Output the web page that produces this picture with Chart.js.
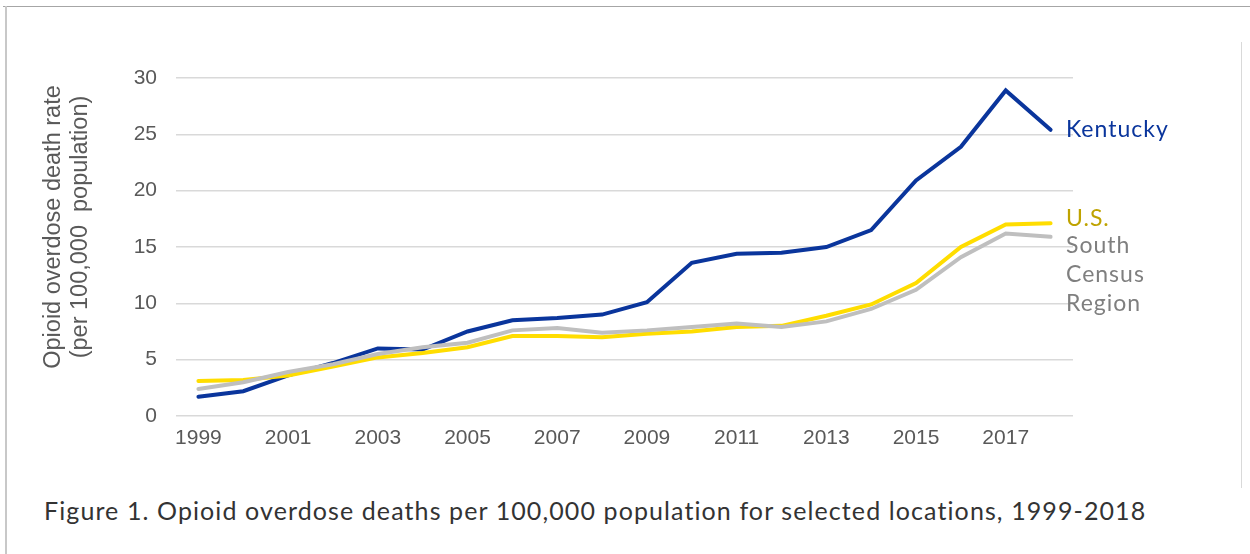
<!DOCTYPE html>
<html>
<head>
<meta charset="utf-8">
<script src="https://cdn.jsdelivr.net/npm/chart.js@4"></script>
<style>
  html, body { margin: 0; padding: 0; background: #fff; }
  body { width: 1250px; height: 554px; position: relative; overflow: hidden; }
  .frame-top { position: absolute; left: 3px; top: 6px; width: 1247px; height: 0; border-top: 1.5px solid #a6a6a6; }
  .frame-left { position: absolute; left: 5px; top: 6px; width: 0; height: 548px; border-left: 2px solid #c8c8c8; }
  .frame-right { position: absolute; left: 1241px; top: 42px; width: 0; height: 446px; border-left: 1px solid #d9d9d9; }
  .chart-box { position: absolute; left: 0; top: 0; width: 1250px; height: 460px; }
  .y-title { position: absolute; left: 66px; top: 227px; width: 400px; transform: translate(-50%, -50%) rotate(-90deg);
             text-align: center; font-family: 'Liberation Sans', Arial, sans-serif; font-size: 23.5px; line-height: 27px; color: #595959; white-space: pre; }
  .caption { position: absolute; left: 44px; top: 495px; font-family: 'Lato', sans-serif; font-size: 25px; letter-spacing: 1.1px; color: #333; white-space: nowrap; }
</style>
</head>
<body>
<div class="frame-top"></div>
<div class="frame-left"></div>
<div class="frame-right"></div>
<div class="chart-box"><canvas id="chart"></canvas></div>
<div class="y-title" id="ytitle"></div>
<div class="caption">Figure 1. Opioid overdose deaths per 100,000 population for selected locations, 1999-2018</div>
<script>
  'use strict';

  const years = ['1999', '2000', '2001', '2002', '2003', '2004', '2005', '2006', '2007', '2008',
                 '2009', '2010', '2011', '2012', '2013', '2014', '2015', '2016', '2017', '2018'];
  const kentucky = [1.7, 2.2, 3.6, 4.7, 6.0, 5.9, 7.5, 8.5, 8.7, 9.0, 10.1, 13.6, 14.4, 14.5, 15.0, 16.5, 20.9, 23.9, 28.9, 25.4];
  const us       = [3.1, 3.2, 3.6, 4.4, 5.2, 5.6, 6.1, 7.1, 7.1, 7.0, 7.3, 7.5, 7.9, 8.0, 8.9, 9.9, 11.8, 15.0, 17.0, 17.1];
  const south    = [2.4, 3.0, 3.9, 4.6, 5.5, 6.1, 6.5, 7.6, 7.8, 7.4, 7.6, 7.9, 8.2, 7.9, 8.4, 9.5, 11.2, 14.1, 16.2, 15.9];
  const yTicks = [0, 5, 10, 15, 20, 25, 30];
  const yTitle = ['Opioid overdose death rate', '(per 100,000  population)'];
  const kentuckyLabel = ['Kentucky'];
  const usLabel = ['U.S.'];
  const southLabel = ['South', 'Census', 'Region'];

  const TICK_COLOR = '#595959';
  const GRID_COLOR = '#d9d9d9';
  const TICK_FONT = { family: "'Liberation Sans', Arial, sans-serif", size: 21 };

  document.getElementById('ytitle').textContent = yTitle.join('\n');

  // end-of-line labels, placed next to the last point of each series
  const endLabels = {
    id: 'endLabels',
    afterDatasetsDraw(chart) {
      const { ctx, chartArea } = chart;
      ctx.save();
      ctx.textBaseline = 'middle';
      ctx.textAlign = 'left';
      ctx.font = "23px 'Lato', sans-serif";
      ctx.letterSpacing = '1px';
      chart.data.datasets.forEach((ds) => {
        const y = chart.scales.y.getPixelForValue(ds.data[ds.data.length - 1]);
        ctx.fillStyle = ds.labelColor;
        ds.labelLines.forEach((line, i) => {
          ctx.fillText(line, chartArea.right - 7, y + ds.labelOffset + i * 29);
        });
      });
      ctx.restore();
    }
  };

  new Chart(document.getElementById('chart'), {
    type: 'line',
    data: {
      labels: years,
      datasets: [
        { label: 'South Census Region', data: south, borderColor: '#bfbfbf', labelColor: '#7f7f7f', labelLines: southLabel, labelOffset: 9 },
        { label: 'U.S.', data: us, borderColor: '#ffdd00', labelColor: '#bfa300', labelLines: usLabel, labelOffset: -5 },
        { label: 'Kentucky', data: kentucky, borderColor: '#0a359c', labelColor: '#0a359c', labelLines: kentuckyLabel, labelOffset: 0 }
      ].map(ds => ({ ...ds, borderWidth: 4, pointRadius: 0, tension: 0, fill: false, borderCapStyle: 'round', borderJoinStyle: 'miter' }))
    },
    options: {
      responsive: true,
      maintainAspectRatio: false,
      animation: false,
      events: [],
      layout: { padding: { left: 30, right: 177, top: 78, bottom: 4 } },
      plugins: { legend: { display: false }, tooltip: { enabled: false } },
      scales: {
        x: {
          offset: true,
          grid: { display: false, drawTicks: false },
          border: { display: false },
          ticks: {
            autoSkip: false, maxRotation: 0, padding: 10, color: TICK_COLOR, font: TICK_FONT,
            callback: (v, i) => (i % 2 === 0 ? years[i] : '')
          },
          afterFit: (s) => { s.height = 40; }
        },
        y: {
          min: yTicks[0], max: yTicks[yTicks.length - 1],
          grid: { color: GRID_COLOR, lineWidth: 1.5, drawTicks: false },
          border: { display: false },
          afterBuildTicks: (s) => { s.ticks = yTicks.map(v => ({ value: v })); },
          ticks: { padding: 19, color: TICK_COLOR, font: TICK_FONT },
          afterFit: (s) => { s.width = 146; }
        }
      }
    },
    plugins: [endLabels]
  });
</script>
</body>
</html>
